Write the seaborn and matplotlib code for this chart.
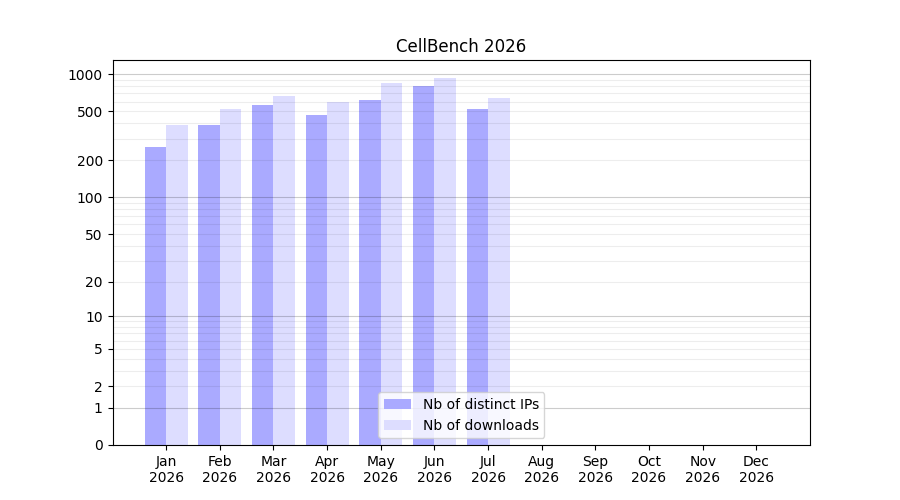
import numpy as np
import pandas as pd
import matplotlib
matplotlib.use("Agg")
import matplotlib.pyplot as plt
import seaborn as sns

# data
months = ["Jan", "Feb", "Mar", "Apr", "May", "Jun", "Jul",
          "Aug", "Sep", "Oct", "Nov", "Dec"]
year = "2026"
distinct_ips = [258, 388, 564, 468, 619, 804, 523]
downloads = [388, 523, 667, 597, 851, 933, 643]
series_names = ["Nb of distinct IPs", "Nb of downloads"]
ytick_values = [0, 1, 2, 5, 10, 20, 50, 100, 200, 500, 1000]

n = len(distinct_ips)
df = pd.DataFrame({
    "month": months[:n] * 2,
    "value": distinct_ips + downloads,
    "series": [series_names[0]] * n + [series_names[1]] * n,
})

fig, ax = plt.subplots(figsize=(9, 5), dpi=100)

sns.barplot(data=df, x="month", y="value", hue="series", order=months,
            hue_order=series_names, palette=["#aaaaff", "#ddddff"],
            saturation=1, alpha=1, width=0.8, ax=ax, zorder=1)

# log(1+x) scale so that zero is on the axis
ax.set_yscale("function", functions=(lambda v: np.log10(1 + np.clip(v, 0, None)),
                                     lambda v: 10 ** v - 1))
ax.set_ylim(0, max(downloads) * 1.4)
ax.set_xlim(-1, len(months))

# grid: light lines on every 1..9 x decade, darker on decades
for dec in [1, 10, 100, 1000]:
    for m in range(1, 10):
        v = dec * m
        if v < ax.get_ylim()[1]:
            ax.axhline(v, color="#000000", alpha=0.07 if m > 1 else 0.2,
                       lw=0.8, zorder=2)

ax.set_yticks(ytick_values)
ax.set_yticklabels([str(v) for v in ytick_values])
ax.set_xticks(range(len(months)))
ax.set_xticklabels([f"{m}\n{year}" for m in months])
ax.set_xlabel("")
ax.set_ylabel("")
ax.set_title("CellBench 2026")

leg = ax.legend(loc="lower center", title=None)
leg.set_zorder(5)

plt.savefig("out.png")
plt.close()
